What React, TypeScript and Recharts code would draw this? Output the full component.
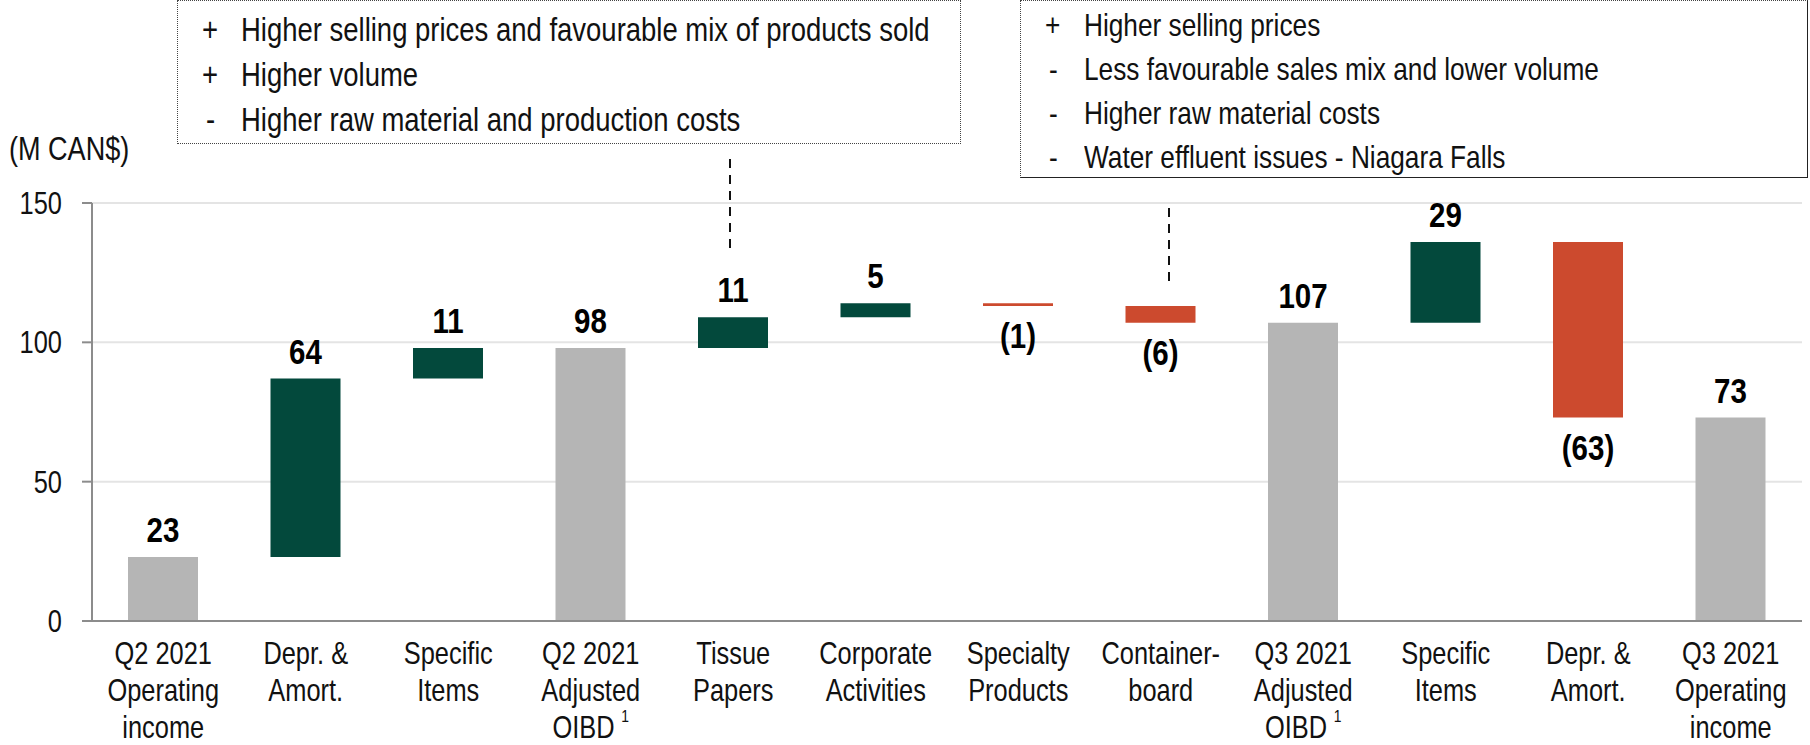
import React from 'react';
import { BarChart, Bar, XAxis, YAxis, CartesianGrid, Cell, LabelList } from 'recharts';

// Arial Narrow is not installed: Liberation Sans squeezed horizontally stands in for it
const FONT = "'Liberation Sans', Arial, sans-serif";
const SQUEEZE = 0.82;

// waterfall steps, left to right
const categoryLines: string[][] = [
  ['Q2 2021', 'Operating', 'income'],
  ['Depr. &', 'Amort.'],
  ['Specific', 'Items'],
  ['Q2 2021', 'Adjusted', 'OIBD'],
  ['Tissue', 'Papers'],
  ['Corporate', 'Activities'],
  ['Specialty', 'Products'],
  ['Container-', 'board'],
  ['Q3 2021', 'Adjusted', 'OIBD'],
  ['Specific', 'Items'],
  ['Depr. &', 'Amort.'],
  ['Q3 2021', 'Operating', 'income'],
];
const amounts = [23, 64, 11, 98, 11, 5, -1, -6, 107, 29, -63, 73];
const isTotal = [true, false, false, true, false, false, false, false, true, false, false, true];
const footnote = [false, false, false, true, false, false, false, false, true, false, false, false];
const yTicks = [0, 50, 100, 150];

const tissueNotes = [
  ['+', 'Higher selling prices and favourable mix of products sold'],
  ['+', 'Higher volume'],
  ['-', 'Higher raw material and production costs'],
];
const containerNotes = [
  ['+', 'Higher selling prices'],
  ['-', 'Less favourable sales mix and lower volume'],
  ['-', 'Higher raw material costs'],
  ['-', 'Water effluent issues - Niagara Falls'],
];

const GRAY = '#b5b5b5';
const GREEN = '#03493c';
const RED = '#cc4a2e';

let running = 0;
const chartData = amounts.map((v, i) => {
  let base = 0;
  let size = v;
  if (isTotal[i]) {
    running = v;
  } else {
    const next = running + v;
    base = Math.min(running, next);
    size = Math.abs(v);
    running = next;
  }
  return { id: `c${i}`, base, size, amount: v, total: isTotal[i] };
});

const colorFor = (d: { amount: number; total: boolean }) =>
  d.total ? GRAY : d.amount < 0 ? RED : GREEN;

// squeezed svg text around its own x
const Narrow = ({ x, children }: { x: number; children: React.ReactNode }) => (
  <g transform={`translate(${x} 0) scale(${SQUEEZE} 1)`}>{children}</g>
);

const CategoryTick = (props: any) => {
  const { x, y, index } = props;
  const lines = categoryLines[index] || [];
  return (
    <Narrow x={x}>
      <text x={0} y={y} textAnchor="middle" fontFamily={FONT} fontSize={31} fill="#111">
        {lines.map((line, k) => (
          <tspan key={k} x={0} y={y + 43 + k * 37}>
            {line}
            {footnote[index] && k === lines.length - 1 ? (
              <tspan fontSize={17} dx={8} dy={-16}>1</tspan>
            ) : null}
          </tspan>
        ))}
      </text>
    </Narrow>
  );
};

const ValueTick = (props: any) => {
  const { x, y, payload } = props;
  return (
    <Narrow x={x}>
      <text x={0} y={y} dy={11} textAnchor="end" fontFamily={FONT} fontSize={31} fill="#111">
        {payload.value}
      </text>
    </Narrow>
  );
};

const ValueLabel = (props: any) => {
  const { x, y, width, height, index } = props;
  const d = chartData[index];
  const cx = x + width / 2;
  const neg = !d.total && d.amount < 0;
  return (
    <Narrow x={cx}>
      <text
        x={0}
        y={neg ? y + height + 42 : y - 15}
        textAnchor="middle"
        fontFamily={FONT}
        fontWeight="bold"
        fontSize={36}
        fill="#000"
      >
        {neg ? `(${Math.abs(d.amount)})` : Math.abs(d.amount)}
      </text>
    </Narrow>
  );
};

const narrowStyle: React.CSSProperties = {
  position: 'absolute',
  whiteSpace: 'nowrap',
  fontFamily: FONT,
  fontSize: 31,
  lineHeight: '36px',
  color: '#111',
  transform: `scaleX(${SQUEEZE})`,
  transformOrigin: 'left top',
};

const NoteBox = ({ left, width, height, rows, solidEdges, top, step, size }: any) => (
  <div
    style={{
      position: 'absolute',
      left,
      top: 0,
      width,
      height,
      boxSizing: 'border-box',
      borderLeft: '1px dotted #444',
      borderTop: '1px dotted #444',
      borderRight: solidEdges ? '1.5px solid #222' : '1px dotted #444',
      borderBottom: solidEdges ? '1.5px solid #222' : '1px dotted #444',
      background: '#fff',
    }}
  >
    {rows.map((r: string[], k: number) => (
      <React.Fragment key={k}>
        <div style={{ ...narrowStyle, fontSize: size, left: r[0] === '+' ? 24 : 28, top: top + k * step }}>{r[0]}</div>
        <div style={{ ...narrowStyle, fontSize: size, left: 63, top: top + k * step }}>{r[1]}</div>
      </React.Fragment>
    ))}
  </div>
);

export default function App() {
  return (
    <div style={{ position: 'relative', width: 1810, height: 745, background: '#fff', overflow: 'hidden' }}>
      <style>{'body{margin:0}'}</style>
      <BarChart
        width={1810}
        height={745}
        data={chartData}
        margin={{ top: 203, right: 8, bottom: 0, left: 0 }}
        barSize={70}
      >
        <CartesianGrid vertical={false} stroke="#e4e4e4" strokeWidth={2} />
        <XAxis
          dataKey="id"
          interval={0}
          tickLine={false}
          tickSize={0}
          tickMargin={0}
          tick={<CategoryTick />}
          axisLine={{ stroke: '#8c8c8c', strokeWidth: 2 }}
          height={124}
        />
        <YAxis
          domain={[0, 150]}
          ticks={yTicks}
          width={92}
          tickSize={10}
          tickMargin={20}
          axisLine={{ stroke: '#8c8c8c', strokeWidth: 2 }}
          tickLine={{ stroke: '#8c8c8c', strokeWidth: 2 }}
          tick={<ValueTick />}
        />
        <Bar dataKey="base" stackId="w" fill="transparent" isAnimationActive={false} />
        <Bar dataKey="size" stackId="w" isAnimationActive={false}>
          {chartData.map((d, i) => (
            <Cell key={i} fill={colorFor(d)} />
          ))}
          <LabelList dataKey="size" content={<ValueLabel />} />
        </Bar>
      </BarChart>

      <div style={{ ...narrowStyle, fontSize: 33, left: 9, top: 131 }}>(M CAN$)</div>

      <NoteBox left={177} width={784} height={144} rows={tissueNotes} top={11} step={45} size={33.5} />
      <NoteBox left={1020} width={788} height={178} rows={containerNotes} top={6} step={44} size={32} solidEdges />

      <svg style={{ position: 'absolute', left: 0, top: 0 }} width={1810} height={745}>
        <line x1={730} y1={159} x2={730} y2={254} stroke="#111" strokeWidth={2} strokeDasharray="9 7" />
        <line x1={1169} y1={208} x2={1169} y2={285} stroke="#111" strokeWidth={2} strokeDasharray="9 7" />
      </svg>
    </div>
  );
}
